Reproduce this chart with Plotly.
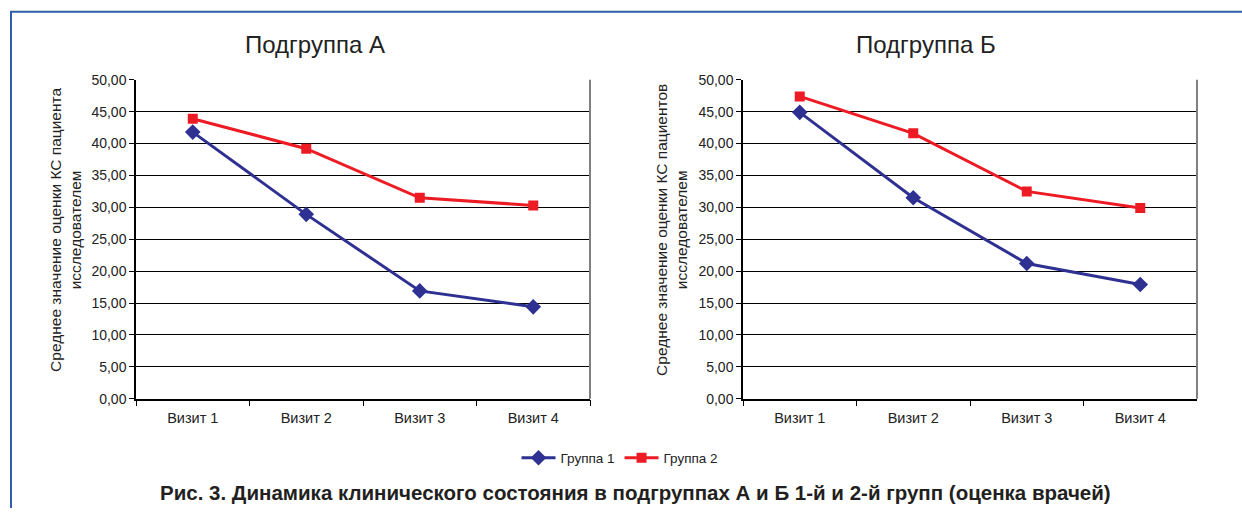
import plotly.graph_objects as go

visits = ["Визит 1", "Визит 2", "Визит 3", "Визит 4"]
series_names = ["Группа 1", "Группа 2"]
subgroup_titles = ["Подгруппа А", "Подгруппа Б"]
a_group1 = [41.8, 28.9, 16.9, 14.4]
a_group2 = [43.9, 39.2, 31.5, 30.3]
b_group1 = [44.9, 31.5, 21.2, 17.9]
b_group2 = [47.4, 41.6, 32.5, 29.9]
y_ticks = [0, 5, 10, 15, 20, 25, 30, 35, 40, 45, 50]
y_titles = ["Среднее значение оценки КС пациента<br>исследователем",
            "Среднее значение оценки КС пациентов<br>исследователем"]
caption = "Рис. 3. Динамика клинического состояния в подгруппах А и Б 1-й и 2-й групп (оценка врачей)"

W, H = 1242, 516
BLUE = "#2e3192"
RED = "#ed1c24"
FONT = "Liberation Sans, Arial, sans-serif"

def px_x(p):
    return p / W

def px_y(p):
    # compensate for the observed vertical mapping of the rendered page
    q = (p - 7.2) / 0.973
    return 1 - q / H

fig = go.Figure()

panels = [
    (a_group1, a_group2, "x", "y"),
    (b_group1, b_group2, "x2", "y2"),
]
for i, (g1, g2, xa, ya) in enumerate(panels):
    fig.add_trace(go.Scatter(
        x=visits, y=g1, name=series_names[0], mode="lines+markers",
        line=dict(color=BLUE, width=3),
        marker=dict(symbol="diamond", size=12, color=BLUE),
        xaxis=xa, yaxis=ya, showlegend=(i == 0)))
    fig.add_trace(go.Scatter(
        x=visits, y=g2, name=series_names[1], mode="lines+markers",
        line=dict(color=RED, width=3),
        marker=dict(symbol="square", size=10, color=RED),
        xaxis=xa, yaxis=ya, showlegend=(i == 0)))

x_domains = [(136, 590), (743, 1197)]
y_dom = [px_y(399.5), px_y(79.3)]

axis_common_x = dict(
    type="category", range=[-0.5, 3.5], showline=True, linecolor="black", linewidth=1.5,
    ticks="outside", tickson="boundaries", ticklen=6, tickcolor="black", tickwidth=1,
    ticklabelstandoff=5,
    showgrid=False, tickfont=dict(size=14.5, color="#222", family=FONT), fixedrange=True,
)
axis_common_y = dict(
    range=[0, 50], tickvals=y_ticks, tickformat=".2f", showline=True, linecolor="black",
    linewidth=1.5, ticks="outside", ticklen=5, tickcolor="black", showgrid=True,
    gridcolor="black", gridwidth=1, zeroline=False,
    tickfont=dict(size=14, color="#222", family=FONT),
)

fig.update_layout(
    width=W, height=H,
    margin=dict(l=0, r=0, t=0, b=0),
    paper_bgcolor="white", plot_bgcolor="white",
    separators=", ",
    font=dict(family=FONT, color="#222"),
    xaxis=dict(domain=[px_x(x_domains[0][0]), px_x(x_domains[0][1])], anchor="y", **axis_common_x),
    xaxis2=dict(domain=[px_x(x_domains[1][0]), px_x(x_domains[1][1])], anchor="y2", **axis_common_x),
    yaxis=dict(domain=y_dom, anchor="x", **axis_common_y),
    yaxis2=dict(domain=y_dom, anchor="x2", **axis_common_y),
    legend=dict(orientation="h", x=px_x(620), xanchor="center", y=px_y(459), yanchor="middle",
                font=dict(size=13.5, color="#222", family=FONT), itemwidth=34,
                bgcolor="rgba(0,0,0,0)"),
    showlegend=True,
)

# Titles
for cx, t in zip([315, 926], subgroup_titles):
    fig.add_annotation(text=t, x=px_x(cx), y=px_y(44), xref="paper", yref="paper",
                       showarrow=False, xanchor="center", yanchor="middle",
                       font=dict(size=24, color="#222", family=FONT))

# Y axis titles
for cx, t in zip([66, 672], y_titles):
    fig.add_annotation(text=t, x=px_x(cx), y=px_y(230), xref="paper", yref="paper",
                       showarrow=False, xanchor="center", yanchor="middle", textangle=-90,
                       font=dict(size=15.5, color="#222", family=FONT))

# Caption
fig.add_annotation(text="<b>" + caption + "</b>", x=px_x(635), y=px_y(494),
                   xref="paper", yref="paper", showarrow=False,
                   xanchor="center", yanchor="middle",
                   font=dict(size=20.5, color="#231f20",
                             family="Liberation Sans Narrow, Arial Narrow, Liberation Sans, sans-serif"))

# Plot-area right borders
for x0, x1 in x_domains:
    fig.add_shape(type="line", xref="paper", yref="paper",
                  x0=px_x(x1), x1=px_x(x1), y0=y_dom[0], y1=y_dom[1],
                  line=dict(color="#808080", width=2))

# Blue frame (top and left)
fig.add_shape(type="path", xref="paper", yref="paper",
              path=f"M {px_x(11)} 0 L {px_x(11)} {px_y(11)} L 1 {px_y(11)}",
              line=dict(color="#2f5fa8", width=2))

fig.write_html(
    "out.html",
    config={"displayModeBar": False},
    post_script=(
        "document.documentElement.style.margin='0';"
        "document.documentElement.style.padding='0';"
        "document.documentElement.style.overflow='hidden';"
        "document.body.style.margin='0';"
        "document.body.style.padding='0';"
        "document.body.style.overflow='hidden';"
    ),
)
